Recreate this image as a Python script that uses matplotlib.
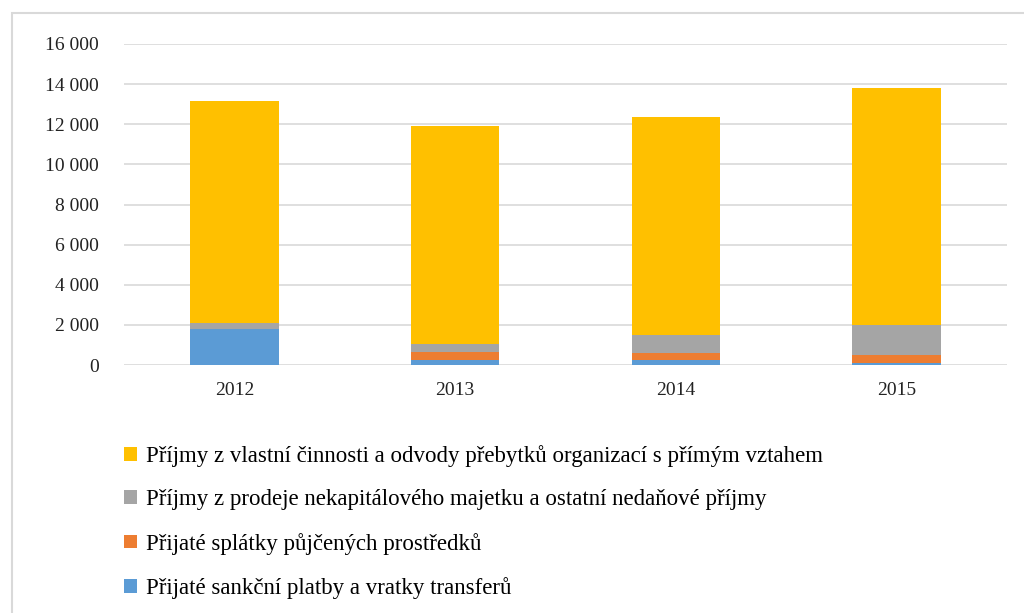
import matplotlib
matplotlib.use("Agg")
import matplotlib.pyplot as plt
from matplotlib.patches import Rectangle
from matplotlib.ticker import FuncFormatter
import numpy as np

years = ["2012", "2013", "2014", "2015"]
sankcni   = [1800, 250, 250, 80]
splatky   = [0, 380, 370, 420]
prodej    = [300, 440, 880, 1470]
vlastni   = [11050, 10830, 10850, 11830]

labels = [
	"Příjmy z vlastní činnosti a odvody přebytků organizací s přímým vztahem",
	"Příjmy z prodeje nekapitálového majetku a ostatní nedaňové příjmy",
	"Přijaté splátky půjčených prostředků",
	"Přijaté sankční platby a vratky transferů",
]
colors = ["#FFC000", "#A5A5A5", "#ED7D31", "#5B9BD5"]

plt.rcParams['font.family'] = ['Liberation Serif', 'DejaVu Serif']

fig = plt.figure( figsize=(10.24, 6.13), dpi=100)
fig.patches.append( Rectangle( (12/1024, -0.1), 1.2, 1 - 13/613 + 0.1, transform=fig.transFigure,
	fill=False, edgecolor="#D9D9D9", linewidth=1.5))
ax = fig.add_axes([124/1024, 1-365/613, (1007-124)/1024, (365-44)/613])

x = np.arange( len( years))
series = [ sankcni, splatky, prodej, vlastni]
bottom = np.zeros( len( years))
handles = []
for vals, col in zip( series, colors[::-1]):
	b = ax.bar( x, vals, 0.4, bottom=bottom, color=col, zorder=3)
	handles.append( b)
	bottom += np.array( vals)

ax.set_xlim( -0.5, len( years)-0.5)
ax.set_ylim( 0, 16000)
ax.set_yticks( range( 0, 16001, 2000))
ax.yaxis.set_major_formatter( FuncFormatter( lambda v, p: "{:,}".format( int( v)).replace( ",", " ")))
ax.set_xticks( x)
ax.set_xticklabels( years)
ax.grid( axis="y", color="#D9D9D9", linewidth=1.2, zorder=0)
for s in ax.spines.values():
	s.set_visible( False)
ax.tick_params( length=0, labelsize=14, colors="#222222")
ax.tick_params( axis="x", pad=12)
ax.tick_params( axis="y", pad=18)

fig.legend( handles[::-1], labels, loc="upper left", bbox_to_anchor=(115/1024, 1-436/613),
	frameon=False, fontsize=16.5, handlelength=0.55, handleheight=0.55, handletextpad=0.4,
	labelspacing=0.97, borderaxespad=0)

fig.savefig( "out.png", dpi=100)
